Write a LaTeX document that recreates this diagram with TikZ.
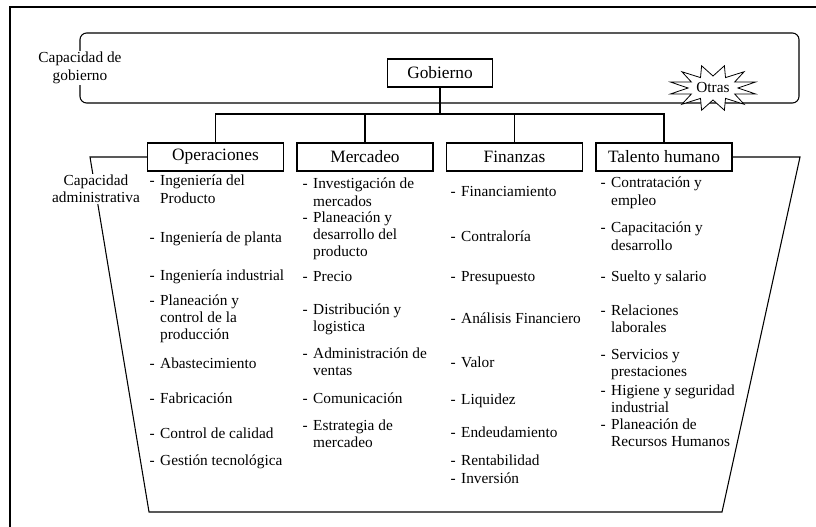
\documentclass[tikz,border=0pt]{standalone}
\usepackage{fontspec}
\setmainfont{Liberation Serif}
\usetikzlibrary{positioning}
% elemento de lista con guion y sangria
\newcommand{\elem}[1]{\makebox[8pt][l]{-}\parbox[t]{5cm}{#1}}
\tikzset{
  area/.style={draw, minimum width=102pt, minimum height=21pt, inner sep=2pt, font=\fontsize{13}{15}\selectfont},
  elem/.style={anchor=base west, inner sep=0pt, font=\fontsize{11.5}{13.1}\selectfont},
  capacidad/.style={fill=white, align=center, inner sep=1pt, font=\fontsize{11.5}{13.1}\selectfont},
}
\begin{document}
\begin{tikzpicture}[x=0.75pt, y=-0.75pt, line width=0.8pt]
  \useasboundingbox (0,0) rectangle (816,527);
  % marco
  \draw (10,527) -- (10,7) -- (816,7);
  % capacidad de gobierno
  \draw[rounded corners=5pt] (80,33) rectangle (799,103);
  \node[capacidad] (capgob) at (80,68) {Capacidad de\\gobierno};
  \node[area, minimum width=79pt] (gob) at (440,73) {Gobierno};
  \draw[fill=white, line width=0.6pt] plot[samples at={0,...,23}, variable=\k]
    ({713+ifthenelse(mod(\k,2)==1,44,25)*cos(15*\k)}, {88-ifthenelse(mod(\k,2)==1,23,12)*sin(15*\k)}) -- cycle;
  \node[font=\fontsize{11.5}{13}\selectfont, inner sep=0pt] (otras) at (713,88) {Otras};
  % areas
  \node[area] (ops) at (215.5,157) {Operaciones};
  \node[area] (mer) at (365,157) {Mercadeo};
  \node[area] (fin) at (514.5,157) {Finanzas};
  \node[area] (tal) at (664,157) {Talento humano};
  \coordinate (bus) at (440,114);
  \draw (gob) -- (bus);
  \draw (ops.north) |- (bus) -| (tal.north);
  \foreach \n in {mer,fin}
    \draw (\n.north) -- (\n.north |- bus);
  % capacidad administrativa
  \coordinate (trapa) at (90,157);
  \coordinate (trapb) at (149,512);
  \coordinate (trapc) at (722,512);
  \coordinate (trapd) at (800,157);
  \draw (ops.west) -- (trapa) -- (trapb) -- (trapc) -- (trapd) -- (tal.east);
  \node[capacidad] (capadm) at (96,189) {Capacidad\\administrativa};
  % listas
  \foreach \y/\t [count=\i] in {186/{Ingeniería del\\Producto}, 242/{Ingeniería de planta},
      280/{Ingeniería industrial}, 305/{Planeación y\\control de la\\producción},
      368/{Abastecimiento}, 403/{Fabricación}, 438/{Control de calidad}, 465/{Gestión tecnológica}}
    \node[elem] (ops\i) at (149,\y) {\elem{\t}};
  \foreach \y/\t [count=\i] in {189/{Investigación de\\mercados}, 222/{Planeación y\\desarrollo del\\producto},
      281/{Precio}, 314/{Distribución y\\logistica}, 358/{Administración de\\ventas},
      403/{Comunicación}, 430/{Estrategia de\\mercadeo}}
    \node[elem] (mer\i) at (302,\y) {\elem{\t}};
  \foreach \y/\t [count=\i] in {197/{Financiamiento}, 241/{Contraloría}, 281/{Presupuesto},
      323/{Análisis Financiero}, 367/{Valor}, 404/{Liquidez}, 437/{Endeudamiento},
      465/{Rentabilidad}, 483/{Inversión}}
    \node[elem] (fin\i) at (450,\y) {\elem{\t}};
  \foreach \y/\t [count=\i] in {188/{Contratación y\\empleo}, 233/{Capacitación y\\desarrollo},
      281/{Suelto y salario}, 315/{Relaciones\\laborales}, 359/{Servicios y\\prestaciones},
      395/{Higiene y seguridad\\industrial}, 429/{Planeación de\\Recursos Humanos}}
    \node[elem] (tal\i) at (600,\y) {\elem{\t}};
\end{tikzpicture}
\end{document}
